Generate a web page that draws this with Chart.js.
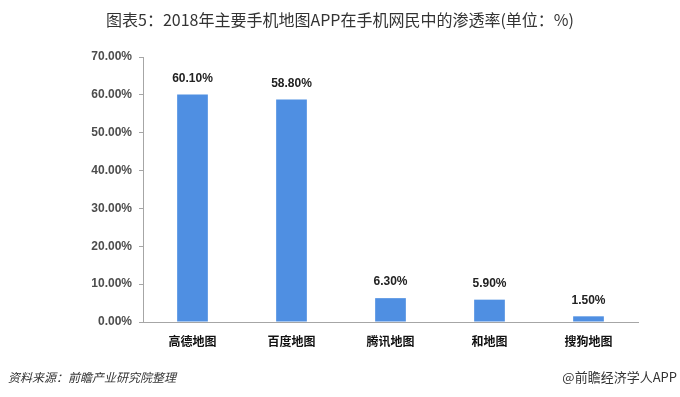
<!DOCTYPE html>
<html>
<head>
<meta charset="utf-8">
<script src="https://cdn.jsdelivr.net/npm/chart.js@4"></script>
<style>
  html, body { margin: 0; padding: 0; background: #fff; }
  #wrap { width: 680px; height: 397px; position: relative; }
</style>
</head>
<body>
<div id="wrap"><canvas id="mapChart" width="680" height="397"></canvas></div>
<script>
// chart data
const categories = ['高德地图', '百度地图', '腾讯地图', '和地图', '搜狗地图'];
const penetration = [60.1, 58.8, 6.3, 5.9, 1.5];
const yTicks = [0, 10, 20, 30, 40, 50, 60, 70];

const titleText = '图表5：2018年主要手机地图APP在手机网民中的渗透率(单位：%)';
const sourceText = '资料来源：前瞻产业研究院整理';
const brandText = '@前瞻经济学人APP';

const cjk = '"Noto Sans CJK SC", sans-serif';
const numFont = '"Liberation Sans", "Noto Sans CJK SC", sans-serif';

// title, footer and value labels
const textPlugin = {
    id: 'textPlugin',
    afterDatasetsDraw(chart) {
        const ctx = chart.ctx;
        ctx.save();
        // value labels above bars
        const meta = chart.getDatasetMeta(0);
        ctx.font = 'bold 12px ' + numFont;
        ctx.fillStyle = '#222';
        ctx.textAlign = 'center';
        ctx.textBaseline = 'bottom';
        meta.data.forEach((bar, i) => {
            ctx.fillText(penetration[i].toFixed(2) + '%', bar.x, bar.y - 10);
        });

        // title
        ctx.font = '16px ' + cjk;
        ctx.fillStyle = '#333';
        ctx.textBaseline = 'middle';
        ctx.fillText(titleText, 340, 20);

        // footer
        ctx.font = 'italic 12px ' + cjk;
        ctx.fillStyle = '#333';
        ctx.textAlign = 'left';
        ctx.fillText(sourceText, 8, 377);
        ctx.font = '13px ' + cjk;
        ctx.textAlign = 'right';
        ctx.fillText(brandText, 677, 377);
        ctx.restore();
    }
};

const ctx = document.getElementById('mapChart').getContext('2d');
const mapChart = new Chart(ctx, {
    type: 'bar',
    data: {
        labels: categories,
        datasets: [{
            data: penetration,
            backgroundColor: '#4f8fe2',
            barPercentage: 0.31,
            categoryPercentage: 1
        }]
    },
    options: {
        responsive: false,
        animation: false,
        layout: { padding: { left: 0, right: 42, top: 57, bottom: 0 } },
        plugins: {
            legend: { display: false },
            tooltip: { enabled: false }
        },
        scales: {
            x: {
                grid: { display: false },
                border: { display: true, color: '#a6a6a6', width: 1 },
                ticks: {
                    color: '#111',
                    font: { family: cjk, size: 12, weight: 'bold' },
                    padding: 4,
                    maxRotation: 0
                },
                afterFit(scale) { scale.height = 75; }
            },
            y: {
                min: 0,
                max: 70,
                afterBuildTicks(scale) {
                    scale.ticks = yTicks.map(v => ({ value: v }));
                },
                grid: {
                    drawOnChartArea: false,
                    drawTicks: true,
                    tickLength: 4,
                    color: '#a6a6a6'
                },
                border: { display: true, color: '#a6a6a6', width: 1 },
                ticks: {
                    color: '#4d4d4d',
                    font: { family: numFont, size: 12, weight: 'bold' },
                    padding: 7,
                    callback: v => v.toFixed(2) + '%'
                },
                afterFit(scale) { scale.width = 143; }
            }
        }
    },
    plugins: [textPlugin]
});
</script>
</body>
</html>
